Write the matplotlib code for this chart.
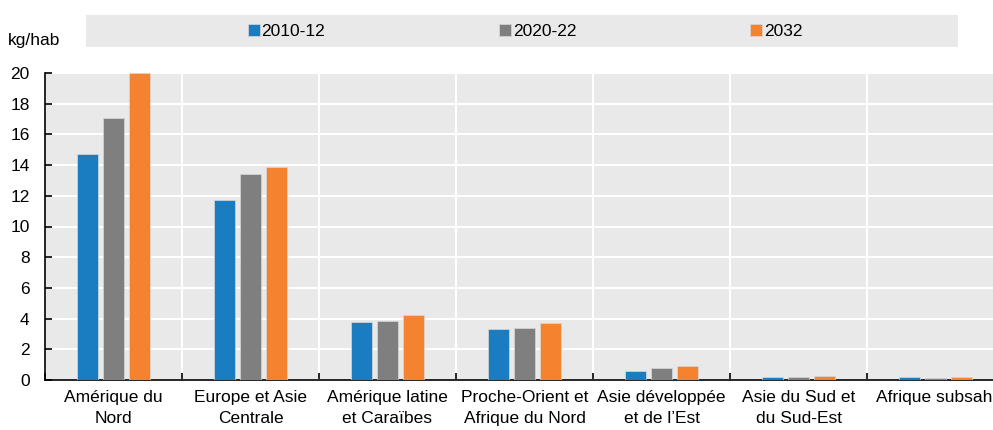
import numpy as np
import matplotlib.pyplot as plt
from matplotlib.patches import Rectangle
from matplotlib.transforms import ScaledTranslation

plt.rcParams['font.family'] = ['Liberation Sans', 'DejaVu Sans']

regions = ['Amérique du\nNord', 'Europe et Asie\nCentrale', 'Amérique latine\net Caraïbes',
           'Proche-Orient et\nAfrique du Nord', 'Asie développée\net de l\u2019Est',
           'Asie du Sud et\ndu Sud-Est', 'Afrique subsaharienne']
series = ['2010-12', '2020-22', '2032']
v2010 = [14.7, 11.75, 3.78, 3.3, 0.57, 0.2, 0.2]
v2020 = [17.1, 13.4, 3.84, 3.41, 0.8, 0.2, 0.15]
v2032 = [20.0, 13.9, 4.25, 3.71, 0.93, 0.24, 0.18]
colors = ['#1a7dc2', '#7f7f7f', '#f5822f']
yticks = [0, 2, 4, 6, 8, 10, 12, 14, 16, 18, 20]

fig = plt.figure(figsize=(9.93, 4.30), dpi=100)
ax = fig.add_axes([45 / 993, 1 - 380 / 430, 959 / 993, 307 / 430])
ax.set_facecolor('#e9e9e9')

x = np.arange(len(regions))
offsets = [-0.19, 0, 0.19]
for vals, off, col, name in zip([v2010, v2020, v2032], offsets, colors, series):
    ax.bar(x + off, vals, width=0.16, color=col, edgecolor='#d8d8d8', linewidth=0.5,
           label=name, zorder=3)

ax.set_xlim(-0.5, len(regions) - 0.5)
ax.set_ylim(0, 20)
ax.set_yticks(yticks)
ax.set_xticks(x)
ax.set_xticklabels(regions, fontsize=12.5, linespacing=1.55)
ax.set_xticks(np.arange(len(regions) + 1) - 0.5, minor=True)
ax.tick_params(axis='x', which='major', length=0, pad=7)
ax.tick_params(axis='x', which='minor', direction='in', length=5, width=1.2)
ax.tick_params(axis='y', direction='in', length=5, width=1.2, labelsize=12.5, pad=11)
ax.grid(axis='y', which='major', color='white', linewidth=1.5, zorder=1)
ax.grid(axis='x', which='minor', color='white', linewidth=1.5, zorder=1)
ax.set_axisbelow(True)
for s in ['top', 'right']:
    ax.spines[s].set_visible(False)
for s in ['left', 'bottom']:
    ax.spines[s].set_linewidth(1.2)

# last label sits further left in the original
last = ax.get_xticklabels()[-1]
last.set_horizontalalignment('left')
last.set_transform(last.get_transform() + ScaledTranslation(-0.60, 0, fig.dpi_scale_trans))

fig.text(8 / 993, 1 - 40 / 430, 'kg/hab', fontsize=12.5, va='center', ha='left')

fig.patches.append(Rectangle((86 / 993, 1 - 47 / 430), 872 / 993, 32 / 430,
                             transform=fig.transFigure, facecolor='#e9e9e9',
                             edgecolor='none', zorder=0))
fig.legend(loc='center', bbox_to_anchor=(525 / 993, 1 - 31.5 / 430), ncol=3,
           frameon=False, fontsize=12.5, handlelength=0.7, handleheight=0.7,
           handletextpad=0.1, columnspacing=10.0, borderpad=0)

fig.savefig('out.png', dpi=100)
